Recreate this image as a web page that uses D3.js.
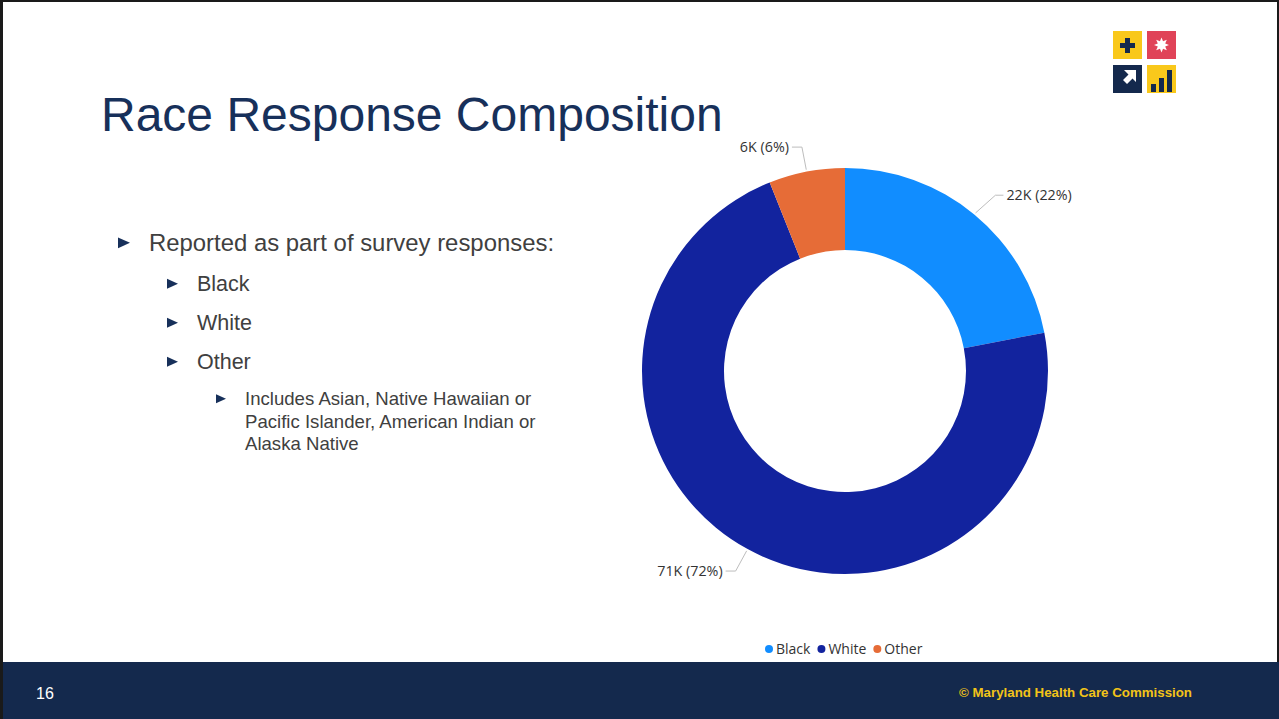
<!DOCTYPE html>
<html>
<head>
<meta charset="utf-8">
<script src="https://cdn.jsdelivr.net/npm/d3@7"></script>
<style>
  html, body { margin: 0; padding: 0; background: #fff; }
  svg { display: block; }
</style>
</head>
<body>
<svg id="chart" width="1279" height="719"></svg>
<script>
const categories = ["Black", "White", "Other"];
const values = [21.8, 71.4, 6.0];            // thousands of responses
const sliceColors = ["#118DFF", "#12239E", "#E66C37"];
const titleText = "Race Response Composition";
const bullets = [
  { level: 1, lines: ["Reported as part of survey responses:"] },
  { level: 2, lines: ["Black"] },
  { level: 2, lines: ["White"] },
  { level: 2, lines: ["Other"] },
  { level: 3, lines: ["Includes Asian, Native Hawaiian or", "Pacific Islander, American Indian or", "Alaska Native"] }
];
const pageNumber = "16";
const footerText = "© Maryland Health Care Commission";

const W = 1279, H = 719;
const svg = d3.select("#chart");
const navy = "#14294D";

// slide frame
svg.append("rect").attr("x", 0).attr("y", 0).attr("width", W).attr("height", H).attr("fill", "#fff");
// footer
svg.append("rect").attr("x", 0).attr("y", 662).attr("width", W).attr("height", H - 662).attr("fill", navy);
// border lines
svg.append("rect").attr("x", 0).attr("y", 0).attr("width", W).attr("height", 2).attr("fill", "#1a1a1a");
svg.append("rect").attr("x", 0).attr("y", 0).attr("width", 3).attr("height", H).attr("fill", "#1a1a1a");
svg.append("rect").attr("x", W - 2).attr("y", 0).attr("width", 2).attr("height", 662).attr("fill", "#1a1a1a");

svg.append("text").attr("x", 36).attr("y", 699).attr("fill", "#fff")
  .attr("font-family", "Liberation Sans, Arial, sans-serif").attr("font-size", 16).text(pageNumber);
svg.append("text").attr("x", 1192).attr("y", 697).attr("text-anchor", "end").attr("fill", "#F2C318")
  .attr("font-family", "Liberation Sans, Arial, sans-serif").attr("font-weight", "bold").attr("font-size", 13.3)
  .text(footerText);

// title
svg.append("text").attr("x", 101).attr("y", 131).attr("fill", "#17305A")
  .attr("font-family", "Liberation Sans, Arial, sans-serif").attr("font-size", 48).text(titleText);

// logo
const logo = svg.append("g").attr("transform", "translate(1113,31)");
logo.append("rect").attr("x", 0).attr("y", 0).attr("width", 29).attr("height", 28).attr("fill", "#F9C81B");
logo.append("rect").attr("x", 34).attr("y", 0).attr("width", 29).attr("height", 28).attr("fill", "#E04358");
logo.append("rect").attr("x", 0).attr("y", 34).attr("width", 29).attr("height", 28).attr("fill", "#14294D");
logo.append("rect").attr("x", 34).attr("y", 34).attr("width", 29).attr("height", 28).attr("fill", "#F9C81B");
// plus
logo.append("path").attr("d", "M12,7h5v5h5v5h-5v5h-5v-5h-5v-5h5z").attr("fill", "#14294D");
// star
const starPts = d3.range(16).map(i => {
  const a = i * Math.PI / 8, r = i % 2 ? 4 : 7.5;
  return [48.5 + r * Math.sin(a), 14 - r * Math.cos(a)];
});
logo.append("path").attr("d", d3.line()(starPts) + "Z").attr("fill", "#fff");
// arrow (chunky, pointing up-right)
logo.append("path").attr("d", "M23,39 L23,51 L19.5,47.5 L14,53 L10,49 L15.5,43.5 L11,39 Z").attr("fill", "#fff");
// bars
logo.append("rect").attr("x", 38).attr("y", 53).attr("width", 5).attr("height", 8).attr("fill", "#14294D");
logo.append("rect").attr("x", 46).attr("y", 47).attr("width", 5).attr("height", 14).attr("fill", "#14294D");
logo.append("rect").attr("x", 54).attr("y", 39).attr("width", 5).attr("height", 22).attr("fill", "#14294D");

// bullets
const lvl = {
  1: { tri: 118, text: 149, size: 23.9, triSize: 12 },
  2: { tri: 167, text: 197, size: 21.5, triSize: 11 },
  3: { tri: 216, text: 245, size: 18.6, triSize: 10 }
};
const startY = [251, 291, 330, 369, 405];
const bg = svg.append("g").attr("font-family", "Liberation Sans, Arial, sans-serif").attr("fill", "#404040");
bullets.forEach((b, i) => {
  const L = lvl[b.level];
  const y = startY[i];
  const s = L.triSize;
  const cy = y - L.size * 0.34;
  bg.append("path")
    .attr("d", `M${L.tri},${cy - s * 0.45}L${L.tri + s},${cy}L${L.tri},${cy + s * 0.45}Z`)
    .attr("fill", "#17305A");
  b.lines.forEach((ln, j) => {
    bg.append("text").attr("x", L.text).attr("y", y + j * 22.5).attr("font-size", L.size).text(ln);
  });
});

// donut
const cx = 845, cy = 371, R = 203, r = 121;
const pie = d3.pie().sort(null).value(d => d)(values);
const arc = d3.arc().innerRadius(r).outerRadius(R);
const color = d3.scaleOrdinal().domain(categories).range(sliceColors);
const g = svg.append("g").attr("transform", `translate(${cx},${cy})`);
g.selectAll("path.slice").data(pie).join("path").attr("class", "slice")
  .attr("d", arc).attr("fill", (d, i) => color(categories[i]));

// labels
const total = d3.sum(values);
const fmtK = v => d3.format(".0f")(v) + "K";
const fmtP = v => d3.format(".0%")(v);
const labelFont = "Open Sans, Segoe UI, sans-serif";
pie.forEach((d, i) => {
  const ang = (d.startAngle + d.endAngle) / 2;
  const right = Math.sin(ang) > 0;
  const p0 = [Math.sin(ang) * (R + 2), -Math.cos(ang) * (R + 2)];
  const p1 = [Math.sin(ang + (right ? 0.03 : 0)) * (R + 25), -Math.cos(ang) * (R + 25)];
  const p2 = [p1[0] + (right ? 8 : -10), p1[1]];
  g.append("polyline").attr("points", [p0, p1, p2].map(p => p.join(",")).join(" "))
    .attr("fill", "none").attr("stroke", "#BDBDBD").attr("stroke-width", 1);
  g.append("text").attr("x", p2[0] + (right ? 3 : -3)).attr("y", p2[1] + 5)
    .attr("text-anchor", right ? "start" : "end")
    .attr("font-family", labelFont).attr("font-size", 14.3).attr("fill", "#333")
    .text(`${fmtK(values[i])} (${fmtP(values[i] / total)})`);
});

// legend
const legend = svg.append("g").attr("font-family", labelFont).attr("font-size", 14).attr("fill", "#333");
let lx = 769;
categories.forEach((c, i) => {
  legend.append("circle").attr("cx", lx).attr("cy", 649).attr("r", 4).attr("fill", sliceColors[i]);
  const t = legend.append("text").attr("x", lx + 7).attr("y", 654).text(c);
  lx += 7 + t.node().getComputedTextLength() + 11;
});
</script>
</body>
</html>
